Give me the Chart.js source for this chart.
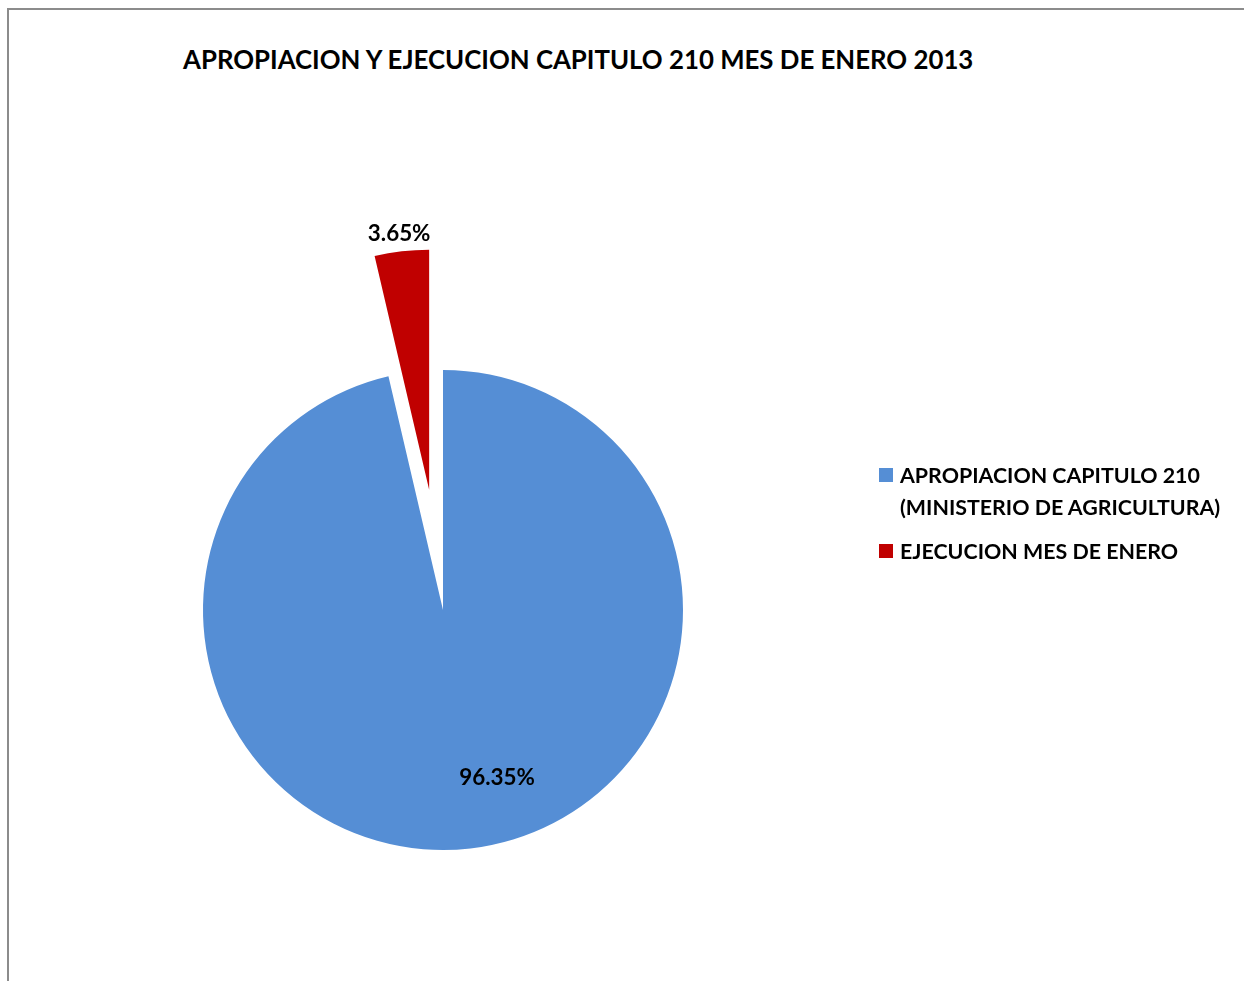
<!DOCTYPE html>
<html>
<head>
<meta charset="utf-8">
<script src="https://cdn.jsdelivr.net/npm/chart.js@4.4.1/dist/chart.umd.min.js"></script>
<style>
  html, body { margin: 0; padding: 0; background: #fff; width: 1244px; height: 981px; overflow: hidden; }
  #frame { position: absolute; left: 7px; top: 8px; width: 1400px; height: 1200px; border-top: 2px solid #8c8c8c; border-left: 2px solid #8c8c8c; }
  #title { position: absolute; left: 183px; top: 44px; font-family: Lato, "Open Sans", sans-serif; font-weight: bold; font-size: 25.8px; line-height: 31px; color: #000; white-space: nowrap; }
  canvas { position: absolute; left: 0; top: 0; }
  .leg { position: absolute; font-family: Lato, "Open Sans", sans-serif; font-weight: bold; font-size: 21.4px; color: #000; line-height: 32px; white-space: nowrap; }
  .sw { position: absolute; width: 14px; height: 14px; }
</style>
</head>
<body>
<div id="frame"></div>
<div id="title"></div>
<canvas id="c" width="1244" height="981"></canvas>
<div id="legend"></div>
<script>
const chartTitle = "APROPIACION Y EJECUCION CAPITULO 210 MES DE ENERO 2013";
const categories = [["APROPIACION CAPITULO 210", "(MINISTERIO DE AGRICULTURA)"], ["EJECUCION MES DE ENERO"]];
const values = [96.35, 3.65];
const valueLabels = ["96.35%", "3.65%"];
const colors = ["#558ED5", "#C00000"];

// presentation settings
const explodeDist = [0, 121];
const labelOffsets = [[0.225, 0.70], [-0.125, -1.067]];

document.getElementById('title').textContent = chartTitle;

// legend
const legend = document.getElementById('legend');
const legTops = [459, 535];
categories.forEach((lines, i) => {
  const sw = document.createElement('div');
  sw.className = 'sw';
  sw.style.left = '879px';
  sw.style.top = (legTops[i] + 9) + 'px';
  sw.style.background = colors[i];
  legend.appendChild(sw);
  const t = document.createElement('div');
  t.className = 'leg';
  t.style.left = '900px';
  t.style.top = legTops[i] + 'px';
  t.innerHTML = lines.map(s => s.replace(/&/g,'&amp;').replace(/</g,'&lt;')).join('<br>');
  legend.appendChild(t);
});

const explodePlugin = {
  id: 'explode',
  afterDatasetsUpdate(chart) {
    const meta = chart.getDatasetMeta(0);
    meta.data.forEach((arc, i) => {
      const d = explodeDist[i] || 0;
      if (!d) return;
      const mid = (arc.startAngle + arc.endAngle) / 2;
      arc.x += Math.cos(mid) * d;
      arc.y += Math.sin(mid) * d;
    });
  }
};

const labelPlugin = {
  id: 'pieLabels',
  afterDatasetsDraw(chart) {
    const ctx = chart.ctx;
    const meta = chart.getDatasetMeta(0);
    ctx.save();
    ctx.font = 'bold 22.4px Lato, "Open Sans", sans-serif';
    ctx.fillStyle = '#000';
    ctx.textAlign = 'center';
    ctx.textBaseline = 'middle';
    meta.data.forEach((arc, i) => {
      const r = arc.outerRadius;
      const x = arc.x + labelOffsets[i][0] * r;
      const y = arc.y + labelOffsets[i][1] * r;
      ctx.fillText(valueLabels[i], x, y);
    });
    ctx.restore();
  }
};

new Chart(document.getElementById('c'), {
  type: 'pie',
  data: {
    labels: categories.map(l => l.join(' ')),
    datasets: [{
      data: values,
      backgroundColor: colors,
      borderWidth: 0
    }]
  },
  options: {
    responsive: false,
    animation: false,
    radius: 240,
    layout: { padding: { left: 0, right: 358, top: 239, bottom: 0 } },
    plugins: {
      legend: { display: false },
      title: { display: false },
      tooltip: { enabled: false }
    },
    events: []
  },
  plugins: [explodePlugin, labelPlugin]
});
</script>
</body>
</html>
